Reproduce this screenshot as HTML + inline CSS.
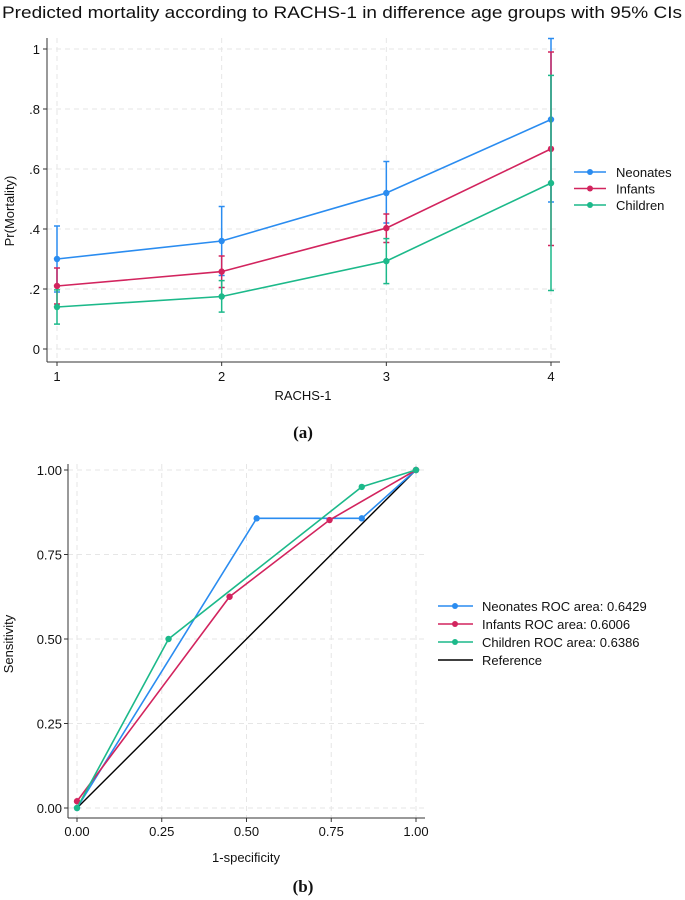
<!DOCTYPE html>
<html><head><meta charset="utf-8"><style>
body{margin:0;background:#fff;}
svg{display:block;font-family:"Liberation Sans",sans-serif;}
</style></head><body>
<svg width="685" height="900" viewBox="0 0 685 900">
<g id="a"></g>
<g id="b"></g>
</svg>
<script>
// Panel A data
const groups = ["Neonates","Infants","Children"];
const colors = ["#2a8cf0","#d2245e","#1cb98a"];
const rachs = [1,2,3,4];
const neoMean = [0.30,0.36,0.52,0.765];
const neoLo = [0.19,0.245,0.42,0.49];
const neoHi = [0.41,0.475,0.625,1.035];
const infMean = [0.21,0.258,0.403,0.667];
const infLo = [0.15,0.205,0.355,0.345];
const infHi = [0.27,0.31,0.45,0.99];
const chiMean = [0.14,0.175,0.293,0.553];
const chiLo = [0.083,0.123,0.218,0.195];
const chiHi = [0.197,0.228,0.368,0.912];
const yTicksA = [0,0.2,0.4,0.6,0.8,1];
const yTickLabelsA = ["0",".2",".4",".6",".8","1"];
// Panel B data
const neoRocX = [0,0.53,0.84,1];
const neoRocY = [0,0.857,0.857,1];
const infRocX = [0,0.45,0.745,1];
const infRocY = [0.02,0.625,0.852,1];
const chiRocX = [0,0.27,0.84,1];
const chiRocY = [0,0.5,0.95,1];
const rocLabels = ["Neonates ROC area: 0.6429","Infants ROC area: 0.6006","Children ROC area: 0.6386","Reference"];
const ticksB = [0,0.25,0.5,0.75,1];
const tickLabelsB = ["0.00","0.25","0.50","0.75","1.00"];

const NS="http://www.w3.org/2000/svg";
function mk(parent,tag,attrs,text){const e=document.createElementNS(NS,tag);for(const k in attrs)e.setAttribute(k,attrs[k]);if(text!==undefined)e.textContent=text;parent.appendChild(e);return e;}

// ---- Panel A ----
const A=document.getElementById('a');
const ax=v=>57+(v-1)*(551-57)/3;
const ay=v=>349-v*300;
let t=mk(A,'text',{x:2,y:18,'font-size':16.5,fill:'#111',textLength:680,lengthAdjust:'spacingAndGlyphs'},"Predicted mortality according to RACHS-1 in difference age groups with 95% CIs");


yTicksA.forEach((v,i)=>{
  let g=mk(A,'line',{x1:47,x2:560,y1:ay(v),y2:ay(v),stroke:'#e6e6e6','stroke-dasharray':'5,4'});
  
  mk(A,'line',{x1:43,x2:47,y1:ay(v),y2:ay(v),stroke:'#333'});
  let l=mk(A,'text',{x:40,y:ay(v)+5,'font-size':13,'text-anchor':'end',fill:'#111'},yTickLabelsA[i]);
  
});
rachs.forEach(v=>{
  let g=mk(A,'line',{x1:ax(v),x2:ax(v),y1:38,y2:362,stroke:'#e6e6e6','stroke-dasharray':'5,4'});
  
  mk(A,'line',{x1:ax(v),x2:ax(v),y1:362,y2:366,stroke:'#333'});
  let l=mk(A,'text',{x:ax(v),y:381,'font-size':13,'text-anchor':'middle',fill:'#111'},String(v));
  
});
mk(A,'line',{x1:47,x2:47,y1:38,y2:362,stroke:'#333'});
mk(A,'line',{x1:47,x2:560,y1:362,y2:362,stroke:'#333'});
t=mk(A,'text',{x:303,y:400,'font-size':13,'text-anchor':'middle',fill:'#111'},"RACHS-1");

t=mk(A,'text',{x:0,y:0,'font-size':13,'text-anchor':'middle',fill:'#111',transform:'translate(14,211) rotate(-90)'},"Pr(Mortality)");

const seriesA=[[neoMean,neoLo,neoHi],[infMean,infLo,infHi],[chiMean,chiLo,chiHi]];
seriesA.forEach((s,k)=>{
  const c=colors[k];
  s[0].forEach((m,i)=>{
    let e=mk(A,'line',{x1:ax(rachs[i]),x2:ax(rachs[i]),y1:ay(s[1][i]),y2:ay(s[2][i]),stroke:c,'stroke-width':1.5});
    
    [s[1][i],s[2][i]].forEach(v=>mk(A,'line',{x1:ax(rachs[i])-3,x2:ax(rachs[i])+3,y1:ay(v),y2:ay(v),stroke:c,'stroke-width':1.5}));
  });
  let p=mk(A,'polyline',{points:s[0].map((m,i)=>ax(rachs[i])+','+ay(m)).join(' '),fill:'none',stroke:c,'stroke-width':1.6});
  
  s[0].forEach((m,i)=>{let d=mk(A,'circle',{cx:ax(rachs[i]),cy:ay(m),r:3.2,fill:c});
    });
  const ly=172+k*16.5;
  let le=mk(A,'g',{});
  
  mk(le,'line',{x1:574,x2:606,y1:ly,y2:ly,stroke:c,'stroke-width':1.6});
  mk(le,'circle',{cx:590,cy:ly,r:3,fill:c});
  mk(le,'text',{x:616,y:ly+5,'font-size':13,fill:'#111'},groups[k]);
});
t=mk(A,'text',{x:303,y:438,'font-size':17,'font-weight':'bold','text-anchor':'middle',fill:'#111','font-family':'Liberation Serif, serif'},"(a)");


// ---- Panel B ----
const B=document.getElementById('b');
const bx=v=>77+v*(416-77);
const by=v=>808-v*(808-470);
ticksB.forEach((v,i)=>{
  let g=mk(B,'line',{x1:68,x2:425,y1:by(v),y2:by(v),stroke:'#e6e6e6','stroke-dasharray':'5,4'});
  
  g=mk(B,'line',{x1:bx(v),x2:bx(v),y1:464,y2:818,stroke:'#e6e6e6','stroke-dasharray':'5,4'});
  
  mk(B,'line',{x1:64,x2:68,y1:by(v),y2:by(v),stroke:'#333'});
  mk(B,'line',{x1:bx(v),x2:bx(v),y1:818,y2:822,stroke:'#333'});
  let l=mk(B,'text',{x:62,y:by(v)+5,'font-size':13,'text-anchor':'end',fill:'#111'},tickLabelsB[i]);
  
  l=mk(B,'text',{x:bx(v),y:836,'font-size':13,'text-anchor':'middle',fill:'#111'},tickLabelsB[i]);
  
});
mk(B,'line',{x1:68,x2:68,y1:464,y2:818,stroke:'#333'});
mk(B,'line',{x1:68,x2:425,y1:818,y2:818,stroke:'#333'});
t=mk(B,'text',{x:246,y:862,'font-size':13,'text-anchor':'middle',fill:'#111'},"1-specificity");

t=mk(B,'text',{x:0,y:0,'font-size':13,'text-anchor':'middle',fill:'#111',transform:'translate(13,644) rotate(-90)'},"Sensitivity");

let ref=mk(B,'line',{x1:bx(0),y1:by(0),x2:bx(1),y2:by(1),stroke:'#000','stroke-width':1.4});

const seriesB=[[neoRocX,neoRocY],[infRocX,infRocY],[chiRocX,chiRocY]];
seriesB.forEach((s,k)=>{
  const c=colors[k];
  let p=mk(B,'polyline',{points:s[0].map((x,i)=>bx(x)+','+by(s[1][i])).join(' '),fill:'none',stroke:c,'stroke-width':1.6});
  
  s[0].forEach((x,i)=>{let d=mk(B,'circle',{cx:bx(x),cy:by(s[1][i]),r:3.2,fill:c});
    });
});
rocLabels.forEach((lab,k)=>{
  const ly=606+k*18;const c=k<3?colors[k]:'#000';
  let le=mk(B,'g',{});
  
  mk(le,'line',{x1:438,x2:473,y1:ly,y2:ly,stroke:c,'stroke-width':1.6});
  if(k<3)mk(le,'circle',{cx:455,cy:ly,r:3,fill:c});
  mk(le,'text',{x:482,y:ly+5,'font-size':13,fill:'#111'},lab);
});
t=mk(B,'text',{x:303,y:892,'font-size':17,'font-weight':'bold','text-anchor':'middle',fill:'#111','font-family':'Liberation Serif, serif'},"(b)");

</script>
</body></html>
